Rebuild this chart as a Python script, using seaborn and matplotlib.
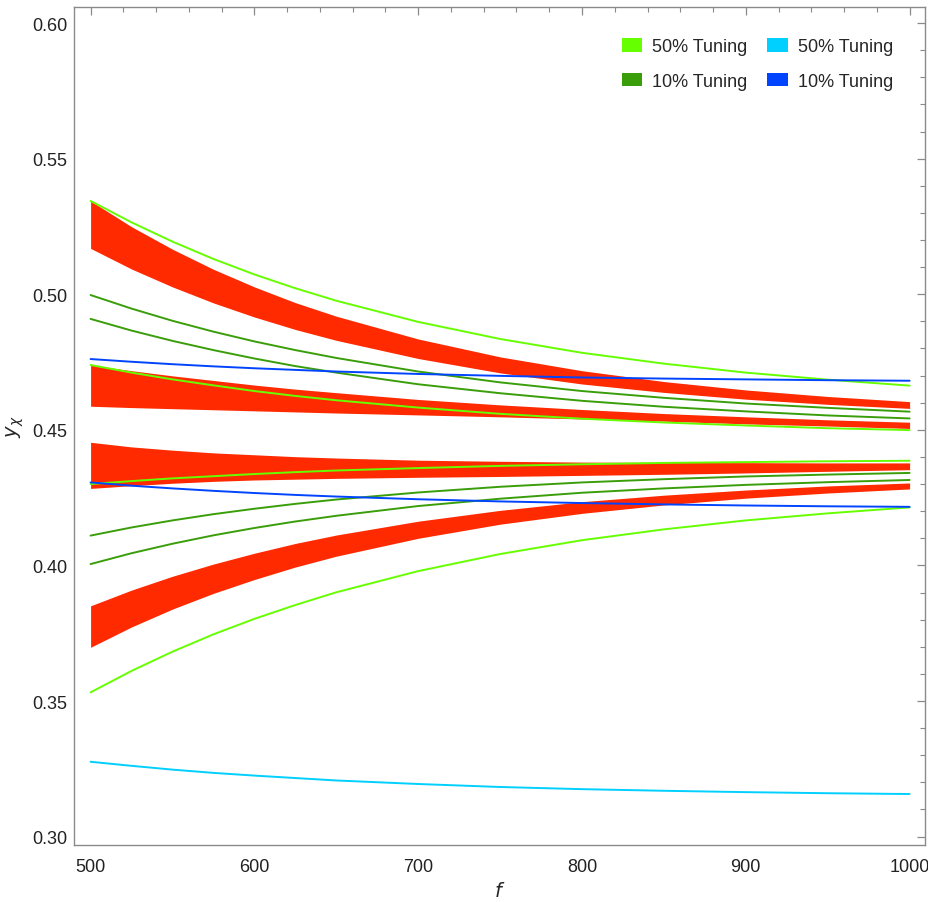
import numpy as np
import pandas as pd
import matplotlib
matplotlib.use("Agg")
import matplotlib.pyplot as plt
from matplotlib.patches import Patch
from matplotlib.ticker import MultipleLocator
import seaborn as sns

# ---------------- data ----------------
f_vals = [500, 525, 550, 575, 600, 625, 650, 700, 750, 800, 850, 900, 950, 1000]

lg1 = [0.5344, 0.5265, 0.5194, 0.5130, 0.5073, 0.5022, 0.4976, 0.4898, 0.4835, 0.4784, 0.4744, 0.4711, 0.4685, 0.4663]
lg2 = [0.4739, 0.4711, 0.4686, 0.4664, 0.4643, 0.4625, 0.4609, 0.4582, 0.4559, 0.4541, 0.4527, 0.4516, 0.4506, 0.4499]
lg3 = [0.4300, 0.4311, 0.4321, 0.4329, 0.4337, 0.4344, 0.4350, 0.4359, 0.4367, 0.4373, 0.4378, 0.4381, 0.4384, 0.4386]
lg4 = [0.3532, 0.3611, 0.3682, 0.3746, 0.3803, 0.3854, 0.3901, 0.3979, 0.4042, 0.4093, 0.4133, 0.4166, 0.4192, 0.4214]

dg1 = [0.4997, 0.4947, 0.4902, 0.4862, 0.4826, 0.4794, 0.4765, 0.4715, 0.4675, 0.4643, 0.4618, 0.4597, 0.4581, 0.4567]
dg2 = [0.4909, 0.4866, 0.4828, 0.4794, 0.4763, 0.4735, 0.4711, 0.4668, 0.4635, 0.4607, 0.4585, 0.4568, 0.4553, 0.4542]
dg3 = [0.4110, 0.4140, 0.4166, 0.4189, 0.4209, 0.4227, 0.4243, 0.4269, 0.4290, 0.4306, 0.4318, 0.4328, 0.4335, 0.4341]
dg4 = [0.4005, 0.4045, 0.4080, 0.4111, 0.4138, 0.4162, 0.4183, 0.4219, 0.4246, 0.4268, 0.4284, 0.4297, 0.4307, 0.4315]

blue1 = [0.4761, 0.4751, 0.4742, 0.4734, 0.4727, 0.4721, 0.4715, 0.4706, 0.4699, 0.4693, 0.4689, 0.4686, 0.4683, 0.4681]
blue2 = [0.4306, 0.4294, 0.4284, 0.4275, 0.4267, 0.4260, 0.4254, 0.4244, 0.4236, 0.4230, 0.4225, 0.4221, 0.4218, 0.4216]
cyan1 = [0.3276, 0.3261, 0.3247, 0.3235, 0.3225, 0.3216, 0.3207, 0.3194, 0.3183, 0.3175, 0.3169, 0.3164, 0.3160, 0.3157]

red1_top = [0.5344, 0.5249, 0.5166, 0.5092, 0.5027, 0.4969, 0.4919, 0.4835, 0.4769, 0.4718, 0.4678, 0.4647, 0.4623, 0.4604]
red1_bot = [0.5169, 0.5093, 0.5027, 0.4968, 0.4916, 0.4870, 0.4830, 0.4763, 0.4710, 0.4669, 0.4638, 0.4613, 0.4594, 0.4579]
red2_top = [0.4739, 0.4718, 0.4699, 0.4682, 0.4665, 0.4650, 0.4637, 0.4612, 0.4592, 0.4575, 0.4560, 0.4548, 0.4537, 0.4528]
red2_bot = [0.4587, 0.4582, 0.4578, 0.4574, 0.4570, 0.4566, 0.4562, 0.4555, 0.4548, 0.4540, 0.4532, 0.4522, 0.4514, 0.4505]
red3_top = [0.4454, 0.4437, 0.4425, 0.4415, 0.4408, 0.4401, 0.4396, 0.4388, 0.4384, 0.4381, 0.4380, 0.4379, 0.4378, 0.4378]
red3_bot = [0.4284, 0.4294, 0.4303, 0.4310, 0.4315, 0.4318, 0.4321, 0.4325, 0.4328, 0.4332, 0.4336, 0.4341, 0.4347, 0.4353]
red4_top = [0.3851, 0.3909, 0.3960, 0.4005, 0.4045, 0.4081, 0.4112, 0.4163, 0.4203, 0.4235, 0.4259, 0.4278, 0.4293, 0.4304]
red4_bot = [0.3698, 0.3773, 0.3839, 0.3897, 0.3948, 0.3994, 0.4034, 0.4100, 0.4152, 0.4192, 0.4223, 0.4248, 0.4267, 0.4282]

legend_labels = ["50% Tuning", "10% Tuning", "50% Tuning", "10% Tuning"]
x_ticks = [500, 600, 700, 800, 900, 1000]
y_ticks = [0.30, 0.35, 0.40, 0.45, 0.50, 0.55, 0.60]

# ---------------- styling ----------------
C_LG = "#66FF00"
C_DG = "#3A9E0A"
C_CY = "#00D0FF"
C_BL = "#0044FF"
C_RED = "#FF2A00"

sns.set_style("white")
plt.rcParams["font.family"] = ["Liberation Sans", "DejaVu Sans"]
plt.rcParams["mathtext.fontset"] = "dejavusans"

lines = {
    "lg1": (lg1, C_LG), "lg2": (lg2, C_LG), "lg3": (lg3, C_LG), "lg4": (lg4, C_LG),
    "dg1": (dg1, C_DG), "dg2": (dg2, C_DG), "dg3": (dg3, C_DG), "dg4": (dg4, C_DG),
    "blue1": (blue1, C_BL), "blue2": (blue2, C_BL), "cyan1": (cyan1, C_CY),
}
rows = []
for name, (vals, _) in lines.items():
    for fv, yv in zip(f_vals, vals):
        rows.append({"f": fv, "y": yv, "curve": name})
df = pd.DataFrame(rows)
palette = {name: col for name, (_, col) in lines.items()}

fig = plt.figure(figsize=(9.29, 9.03), dpi=100)
ax = fig.add_axes([0.0797, 0.0631, 0.9160, 0.9280])

# red bands
for top, bot in [(red1_top, red1_bot), (red2_top, red2_bot),
                 (red3_top, red3_bot), (red4_top, red4_bot)]:
    ax.fill_between(f_vals, bot, top, color=C_RED, linewidth=0, zorder=1)

sns.lineplot(data=df, x="f", y="y", hue="curve", palette=palette,
             units="curve", estimator=None, legend=False, linewidth=1.4,
             ax=ax, zorder=3)

ax.set_xlim(489.9, 1009.4)
ax.set_ylim(0.2969, 0.6059)
ax.set_xticks(x_ticks)
ax.set_xticklabels([str(t) for t in x_ticks])
ax.set_yticks(y_ticks)
ax.set_yticklabels([f"{t:.2f}" for t in y_ticks])
ax.xaxis.set_minor_locator(MultipleLocator(20))
ax.yaxis.set_minor_locator(MultipleLocator(0.01))

for sp in ax.spines.values():
    sp.set_visible(True)
    sp.set_color("#8a8a8a")
    sp.set_linewidth(1.0)

ax.tick_params(which="both", direction="in", top=True, right=True,
               color="#8a8a8a", labelsize=13, labelcolor="#222222")
ax.tick_params(which="major", length=6, width=0.9)
ax.tick_params(which="minor", length=3.5, width=0.8)
ax.tick_params(axis="x", which="major", pad=9)
ax.tick_params(axis="y", which="major", pad=5)

ax.set_xlabel(r"$f$", fontsize=14, labelpad=5)
ax.set_ylabel(r"$y_\chi$", fontsize=14, labelpad=4)

handles = [Patch(facecolor=C_LG, edgecolor="none"),
           Patch(facecolor=C_DG, edgecolor="none"),
           Patch(facecolor=C_CY, edgecolor="none"),
           Patch(facecolor=C_BL, edgecolor="none")]
ax.legend(handles, legend_labels, ncol=2, loc="upper right",
          bbox_to_anchor=(0.982, 0.982), frameon=False, fontsize=13,
          handlelength=1.15, handleheight=0.75, handletextpad=0.55,
          columnspacing=1.1, labelspacing=0.95)

fig.savefig("out.png", dpi=100, facecolor="white")
